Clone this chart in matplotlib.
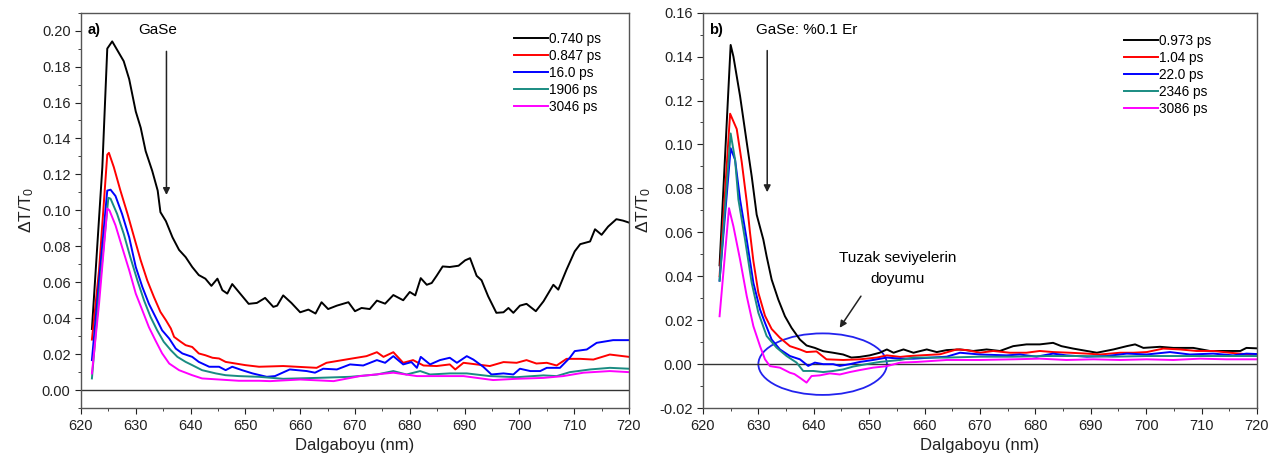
import numpy as np
import matplotlib.pyplot as plt
from matplotlib.patches import Ellipse
from matplotlib.ticker import MultipleLocator

plt.rcParams['font.family'] = ['Liberation Sans', 'DejaVu Sans']
plt.rcParams['mathtext.fontset'] = 'custom'
plt.rcParams['mathtext.rm'] = 'Liberation Sans'
plt.rcParams['mathtext.it'] = 'Liberation Sans'

# ---- panel a: GaSe ----
a_labels = ["0.740 ps", "0.847 ps", "16.0 ps", "1906 ps", "3046 ps"]

a_black_x = [622, 623.9, 624.8, 625.7, 627.8, 628.8, 630, 630.9, 631.8, 633, 634, 634.5, 635.5,
             636.7, 637.9, 639.1, 640.3, 641.5, 642.7, 643.8, 644.9, 645.8, 646.7, 647.6, 648.8,
             650.6, 652.1, 653.6, 655.1, 655.8, 656.9, 658.4, 660, 661.5, 662.8, 663.9, 665.1,
             666.7, 668.8, 670, 671.2, 672.7, 674, 675.5, 677, 678.8, 680, 681, 682, 683.1, 684,
             684.9, 686, 687.3, 688.9, 690.1, 691, 692.2, 693.1, 694.3, 695.8, 697.1, 698, 698.9,
             700.1, 701.3, 703, 704.4, 706.2, 707.1, 708.6, 710.1, 711.1, 712.9, 713.8, 715, 716.2,
             717.7, 718.9, 720]
a_black_y = [0.034, 0.124, 0.190, 0.194, 0.183, 0.173, 0.155, 0.146, 0.133, 0.122, 0.111, 0.099,
             0.094, 0.085, 0.078, 0.074, 0.0685, 0.064, 0.062, 0.058, 0.062, 0.0556, 0.0537, 0.059,
             0.0546, 0.048, 0.0485, 0.0513, 0.0463, 0.047, 0.0527, 0.0485, 0.0433, 0.0448, 0.0426,
             0.0489, 0.0451, 0.047, 0.0489, 0.0439, 0.0457, 0.0451, 0.0498, 0.0481, 0.0529, 0.050,
             0.0546, 0.0527, 0.0623, 0.0586, 0.0596, 0.0636, 0.0688, 0.0685, 0.0692, 0.0722, 0.0734,
             0.0636, 0.0611, 0.0522, 0.043, 0.0433, 0.0457, 0.043, 0.047, 0.048, 0.0439, 0.0494,
             0.0586, 0.0559, 0.067, 0.0772, 0.0812, 0.0827, 0.0895, 0.0864, 0.091, 0.0951, 0.0943,
             0.0932]

a_red_x = [622, 623.3, 624.8, 625.1, 626, 627.2, 628.5, 629.7, 630.9, 632.1, 633.3, 634.5, 635.5,
           636.4, 637, 638.2, 639.1, 640.3, 641.5, 642.7, 644, 645.2, 646.4, 648.2, 650, 652.5,
           656.9, 663, 664.8, 669.1, 672.1, 674, 675.2, 677, 678.8, 680.6, 682.5, 684.9, 687.3,
           688.3, 689.8, 692.2, 694.6, 697.1, 699.5, 701.3, 703.1, 705, 706.8, 708.6, 711.1, 713.5,
           716.5, 720]
a_red_y = [0.0281, 0.0667, 0.131, 0.132, 0.124, 0.111, 0.098, 0.085, 0.0722, 0.061, 0.0519, 0.0435,
           0.0389, 0.0343, 0.0296, 0.0269, 0.025, 0.024, 0.0204, 0.0194, 0.018, 0.0176, 0.0157,
           0.0148, 0.0139, 0.013, 0.0134, 0.0124, 0.0152, 0.0174, 0.0189, 0.0211, 0.0185, 0.0211,
           0.0152, 0.0167, 0.0137, 0.0134, 0.0143, 0.0115, 0.0152, 0.0143, 0.0134, 0.0156, 0.0152,
           0.0167, 0.0148, 0.0152, 0.0137, 0.0174, 0.0174, 0.017, 0.0198, 0.0185]

a_blue_x = [622, 623.3, 624.8, 625.4, 626.3, 627.5, 628.8, 630, 631.2, 632.4, 633.6, 634.8, 636.1,
            637.3, 638.5, 640.3, 641.5, 643.4, 645.2, 646.4, 647.6, 649.4, 651.3, 653.9, 655.4,
            658.1, 661.2, 662.7, 664.2, 666.7, 669.1, 671.5, 674, 675.5, 677, 678.8, 680.3, 681.3,
            682, 683.7, 685.5, 687.3, 688.6, 690.4, 691.6, 693.4, 694.9, 697.1, 698.9, 700.1, 702,
            703.8, 705, 707.4, 709.2, 710.1, 712.3, 714.1, 717.1, 720]
a_blue_y = [0.0167, 0.061, 0.111, 0.1115, 0.108, 0.098, 0.085, 0.0685, 0.0574, 0.048, 0.0407,
            0.0333, 0.0287, 0.0231, 0.0204, 0.0185, 0.0157, 0.013, 0.013, 0.0111, 0.013, 0.0111,
            0.0093, 0.0074, 0.0078, 0.0115, 0.0106, 0.0097, 0.0119, 0.0115, 0.0143, 0.0137, 0.0167,
            0.0152, 0.0189, 0.0143, 0.0156, 0.0124, 0.0185, 0.0143, 0.0167, 0.018, 0.0152, 0.0189,
            0.017, 0.013, 0.0087, 0.0093, 0.0087, 0.0119, 0.0106, 0.0106, 0.0124, 0.0124, 0.018,
            0.0217, 0.0226, 0.0263, 0.0278, 0.0278]

a_teal_x = [622, 623.3, 625, 625.4, 626.6, 627.8, 629, 630.3, 631.5, 632.7, 633.9, 635.1, 636.4,
            637.6, 639.1, 640.3, 642.1, 644.6, 646.4, 648.8, 652.5, 656.9, 663, 669.1, 674, 677,
            679.4, 681.9, 683.7, 687.3, 690.4, 694.6, 699.5, 704.4, 706.8, 709.2, 712.9, 716.5, 720]
a_teal_y = [0.0065, 0.0537, 0.107, 0.1065, 0.098, 0.087, 0.074, 0.061, 0.050, 0.0407, 0.0333,
            0.0269, 0.0222, 0.0185, 0.0157, 0.0139, 0.0111, 0.0093, 0.0083, 0.0078, 0.0074, 0.0063,
            0.0068, 0.0074, 0.0087, 0.0106, 0.0087, 0.0106, 0.0087, 0.0093, 0.0093, 0.0078, 0.0072,
            0.0082, 0.0078, 0.010, 0.0115, 0.0124, 0.0119]

a_mag_x = [622, 623.3, 624.8, 625.2, 626.3, 627.5, 628.8, 630, 631.2, 632.4, 633.6, 634.8, 636.1,
           637.9, 640.3, 642.1, 645.2, 648.8, 652.5, 654.5, 660, 666.1, 670.9, 677, 681.3, 684.9,
           689.8, 695.2, 699.5, 704.4, 708, 711.7, 716.5, 720]
a_mag_y = [0.0093, 0.048, 0.101, 0.100, 0.0917, 0.0796, 0.0667, 0.0537, 0.0444, 0.035, 0.0276,
           0.0205, 0.0148, 0.0111, 0.0083, 0.0065, 0.0059, 0.0052, 0.0052, 0.005, 0.0059, 0.005,
           0.0078, 0.0097, 0.0078, 0.0078, 0.0078, 0.0056, 0.0063, 0.0068, 0.0078, 0.0097, 0.0106,
           0.010]

# ---- panel b: GaSe: %0.1 Er ----
b_labels = ["0.973 ps", "1.04 ps", "22.0 ps", "2346 ps", "3086 ps"]

b_black_x = [623, 625, 625.5, 626.7, 627.9, 628.8, 629.7, 630.9, 631.5, 632.4, 633.6, 634.8, 636,
             637.5, 638.7, 640.2, 641.7, 643.5, 645.3, 646.8, 648.3, 650.1, 651.9, 653.2,
             654.4, 656.2, 658, 660.4, 662.2, 664, 666.4, 668.8, 671.2, 673.6, 676, 678.4, 680.8,
             683.2, 684.7, 686.8, 689.3, 691.1, 694.1, 696.5, 698, 699.5, 702.5, 704.9, 708.5,
             711.5, 714.5, 717, 718.1, 720]
b_black_y = [0.045, 0.1453, 0.140, 0.122, 0.101, 0.0855, 0.068, 0.0567, 0.049, 0.0385, 0.0294,
             0.0218, 0.0165, 0.0112, 0.0085, 0.0074, 0.0059, 0.0052, 0.0044, 0.003, 0.0033,
             0.004, 0.0052, 0.0067, 0.0052, 0.0067, 0.0052, 0.0067, 0.0055, 0.0064, 0.0067, 0.006,
             0.0067, 0.006, 0.0082, 0.009, 0.009, 0.0097, 0.0082, 0.0071, 0.006, 0.0052, 0.0067,
             0.0082, 0.009, 0.0074, 0.0079, 0.0074, 0.0074, 0.006, 0.006, 0.006, 0.0074, 0.0072]

b_red_x = [623, 624.9, 626.1, 627, 627.9, 628.5, 629.1, 630, 631.2, 632.4, 633.9, 635.7, 637.5,
           638.7, 640.5, 642.3, 645.3, 648.3, 651.4, 653.2, 655.6, 656.8,
           659.2, 662.8, 665.8, 667.6, 670, 672.4, 675.4, 678.4, 680.8, 683.2, 686.2, 689.3, 691.7,
           695.3, 697.7, 700.1, 703.1, 706.1, 709.1, 712.1, 715.1, 718.7, 720]
b_red_y = [0.040, 0.114, 0.107, 0.092, 0.074, 0.0597, 0.0470, 0.0325, 0.022, 0.016, 0.012, 0.0082,
           0.0067, 0.0055, 0.0058, 0.0022, 0.0019, 0.0022, 0.003,
           0.004, 0.0033, 0.0036, 0.004, 0.0045, 0.0067, 0.0064, 0.0052, 0.006, 0.0052, 0.0052,
           0.006, 0.0055, 0.0052, 0.0048, 0.0044, 0.0052, 0.0052, 0.0055, 0.0071, 0.0067, 0.006,
           0.006, 0.0052, 0.0044, 0.0046]

b_blue_x = [623, 625, 625.8, 626.7, 627.9, 629.1, 630.3, 631.2, 632.4, 633.9, 635.7, 637.5, 639,
            640.2, 641.7, 643.5, 644.7, 646.5, 648.3, 650.7, 653.2, 655.6, 658,
            664, 666.4, 670, 674.8, 677.2, 680.2, 683.2, 685.6, 689.3, 692.9, 696.5, 700.1, 704.3,
            707.9, 712.1, 715.7, 718.1, 720]
b_blue_y = [0.038, 0.0983, 0.093, 0.0749, 0.0567, 0.037, 0.0249, 0.0188, 0.0112, 0.0067, 0.0037,
            0.0022, -0.0008, 0.0007, 0.0, 0.0, -0.0008, 0.0, 0.001, 0.0019,
            0.003, 0.0025, 0.0025, 0.0034, 0.0052, 0.0044, 0.004, 0.0044, 0.0034, 0.0048, 0.004,
            0.0034, 0.0037, 0.0048, 0.0044, 0.0055, 0.0044, 0.0048, 0.004, 0.0048, 0.0046]

b_teal_x = [623, 625, 625.8, 626.4, 627.6, 628.8, 630, 631.5, 633.3, 635.1, 636.9, 638.1, 639.9,
            641.7, 643.5, 645.3, 647.1, 649.5, 651.9, 655.6, 658, 664, 670,
            676, 682, 688, 694, 700, 706, 712, 720]
b_teal_y = [0.038, 0.105, 0.093, 0.0749, 0.0567, 0.037, 0.0234, 0.0128, 0.0075, 0.0037, 0.0007,
            -0.0031, -0.0031, -0.0036, -0.0031, -0.0024, -0.0011, 0.0,
            0.001, 0.0019, 0.003, 0.003, 0.0034, 0.0034, 0.0037, 0.0037, 0.0034, 0.0037, 0.0037,
            0.0037, 0.0037]

b_mag_x = [623, 624.7, 625.5, 626.7, 627.9, 629.1, 630.3, 631.2, 632.1, 633.9, 635.7,
           636.5, 637.5, 638.7, 639.6, 641.1, 642.9, 644.7, 646.5, 648.3, 650.7, 653.2, 655.6,
           658.6, 664, 670, 676, 680.8, 685.6, 690.5, 695.3, 700.1, 704.9, 709.7, 714.5, 720]
b_mag_y = [0.0218, 0.071, 0.0627, 0.0476, 0.031, 0.0173, 0.0082, 0.0022, -0.0009, -0.0016,
           -0.0039, -0.0045, -0.0062, -0.0084, -0.0054, -0.0051, -0.0042,
           -0.0047, -0.0036, -0.0027, -0.0016, -0.0009, 0.0007, 0.001, 0.0019, 0.0019, 0.0022,
           0.0025, 0.0019, 0.0022, 0.0019, 0.0022, 0.0019, 0.0025, 0.0022, 0.0022]

colors = ['black', '#ff0000', '#0000ff', '#1a8c82', '#ff00ff']

fig = plt.figure(figsize=(12.73, 4.68), dpi=100)
ax1 = fig.add_axes([0.0636, 0.128, 0.4305, 0.845])
ax2 = fig.add_axes([0.5522, 0.128, 0.4352, 0.845])


def style_axis(ax, ylo, yhi):
    ax.set_xlim(620, 720)
    ax.set_ylim(ylo, yhi)
    ax.xaxis.set_major_locator(MultipleLocator(10))
    ax.xaxis.set_minor_locator(MultipleLocator(5))
    ax.yaxis.set_major_locator(MultipleLocator(0.02))
    ax.yaxis.set_minor_locator(MultipleLocator(0.01))
    ax.yaxis.set_major_formatter(plt.FormatStrFormatter('%.2f'))
    ax.tick_params(which='both', direction='out', top=False, right=False,
                   labelsize=10.5, colors='#222222')
    ax.tick_params(which='major', length=4)
    ax.tick_params(which='minor', length=2.5)
    for sp in ax.spines.values():
        sp.set_color('#555555')
        sp.set_linewidth(1.0)
    ax.axhline(0, color='#333333', lw=1.0)
    ax.set_xlabel('Dalgaboyu (nm)', fontsize=12, color='#222222')
    ax.set_ylabel(r'$\Delta$T/T$_0$', fontsize=12.5, color='#222222')


style_axis(ax1, -0.01, 0.21)
series_a = [(a_black_x, a_black_y), (a_red_x, a_red_y), (a_blue_x, a_blue_y),
            (a_teal_x, a_teal_y), (a_mag_x, a_mag_y)]
for (xs, ys), c, lab in zip(series_a, colors, a_labels):
    ax1.plot(xs, ys, color=c, lw=1.4, label=lab)
ax1.legend(loc='upper left', bbox_to_anchor=(0.772, 0.975), frameon=False, fontsize=9.8,
           handlelength=2.5, handletextpad=0.12, labelspacing=0.22, borderpad=0.2)
ax1.text(621.3, 0.2005, 'a)', fontsize=10.5, fontweight='bold', va='center')
ax1.text(630.4, 0.2005, 'GaSe', fontsize=11, va='center')
ax1.annotate('', xy=(635.6, 0.107), xytext=(635.6, 0.190),
             arrowprops=dict(arrowstyle='-|>', color='#222222', lw=1.1, mutation_scale=10))

style_axis(ax2, -0.02, 0.16)
series_b = [(b_black_x, b_black_y), (b_red_x, b_red_y), (b_blue_x, b_blue_y),
            (b_teal_x, b_teal_y), (b_mag_x, b_mag_y)]
for (xs, ys), c, lab in zip(series_b, colors, b_labels):
    ax2.plot(xs, ys, color=c, lw=1.4, label=lab)
ax2.legend(loc='upper left', bbox_to_anchor=(0.742, 0.97), frameon=False, fontsize=9.8,
           handlelength=2.5, handletextpad=0.12, labelspacing=0.22, borderpad=0.2)
ax2.text(621.1, 0.152, 'b)', fontsize=10.5, fontweight='bold', va='center')
ax2.text(629.6, 0.152, 'GaSe: %0.1 Er', fontsize=11, va='center')
ax2.annotate('', xy=(631.6, 0.077), xytext=(631.6, 0.144),
             arrowprops=dict(arrowstyle='-|>', color='#222222', lw=1.1, mutation_scale=10))
ax2.text(655.2, 0.0435, 'Tuzak seviyelerin\ndoyumu', fontsize=11, ha='center', va='center',
         linespacing=1.6)
ax2.annotate('', xy=(644.4, 0.0155), xytext=(648.8, 0.032),
             arrowprops=dict(arrowstyle='-|>', color='#222222', lw=1.1, mutation_scale=10))
ax2.add_patch(Ellipse((641.6, 0.0), 23.2, 0.028, fill=False, edgecolor='#2222ee', lw=1.3))

fig.savefig('out.png', dpi=100)
